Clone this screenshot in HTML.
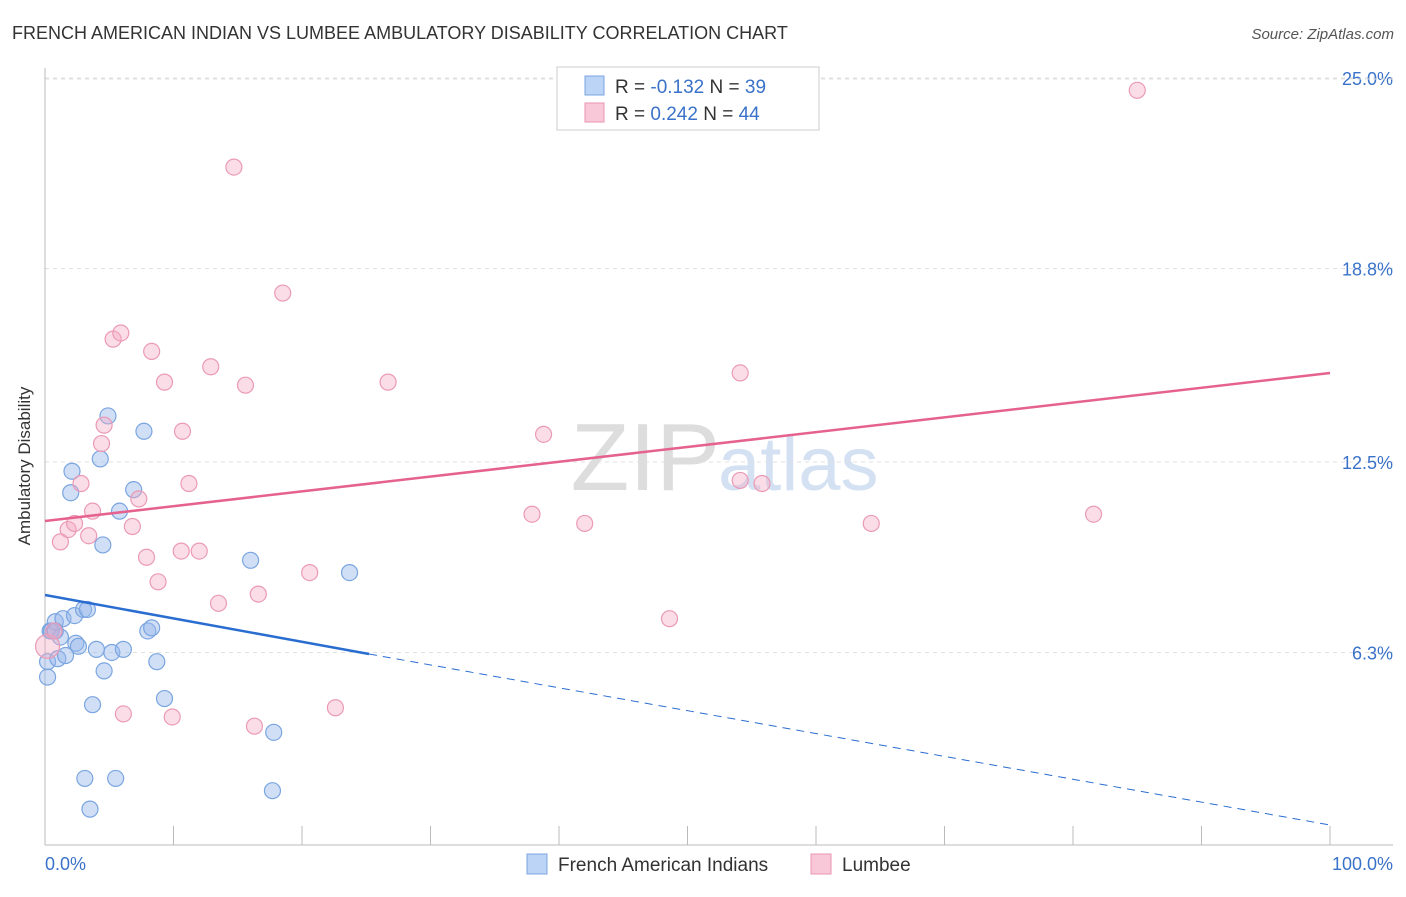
<!DOCTYPE html>
<html><head><meta charset="utf-8"><style>
body{margin:0;background:#fff;font-family:"Liberation Sans",sans-serif;}
svg text{font-family:"Liberation Sans",sans-serif;}
</style></head><body>
<svg width="1406" height="892">
<text x="12" y="39" font-size="18" fill="#333">FRENCH AMERICAN INDIAN VS LUMBEE AMBULATORY DISABILITY CORRELATION CHART</text>
<text x="1394" y="39" font-size="15" fill="#555" font-style="italic" text-anchor="end">Source: ZipAtlas.com</text>
<text x="720" y="490" font-size="96" fill="#ddd" text-anchor="end" font-family="Liberation Serif">ZIP</text>
<text x="718" y="490" font-size="76" fill="#d3e1f3">atlas</text>
<g id="grid"></g>
<line x1="45" y1="68" x2="45" y2="845" stroke="#bbb"/>
<line x1="45" y1="845" x2="1393" y2="845" stroke="#bbb"/>
<text x="20" y="456" font-size="17" fill="#333" transform="rotate(-90 30 456)" text-anchor="middle">Ambulatory Disability</text>
<text x="45" y="870" font-size="18" fill="#3a72c9">0.0%</text>
<text x="1393" y="870" font-size="18" fill="#3a72c9" text-anchor="end">100.0%</text>
<g id="marks"></g>
<g>
<rect x="557" y="67" width="262" height="63" fill="#fff" stroke="#ccc"/>
<rect x="585" y="76" width="19" height="19" fill="#bcd4f5" stroke="#7aa5e0"/>
<rect x="585" y="103" width="19" height="19" fill="#f9c8d8" stroke="#eb94b2"/>
<text x="615" y="93" font-size="19" fill="#333">R = <tspan fill="#3a72c9">-0.132</tspan>   N = <tspan fill="#3a72c9">39</tspan></text>
<text x="615" y="120" font-size="19" fill="#333">R =  <tspan fill="#3a72c9">0.242</tspan>   N = <tspan fill="#3a72c9">44</tspan></text>
</g>
<g>
<rect x="527" y="854" width="20" height="20" fill="#bcd4f5" stroke="#7aa5e0"/>
<text x="558" y="871" font-size="19" fill="#333">French American Indians</text>
<rect x="811" y="854" width="20" height="20" fill="#f9c8d8" stroke="#eb94b2"/>
<text x="842" y="871" font-size="19" fill="#333">Lumbee</text>
</g>
</svg>
<script>
const yTicks=[6.3,12.5,18.8,25.0];
const blueX=[0.2,0.4,0.5,0.8,1.0,1.2,1.4,1.6,2.0,2.1,2.3,2.4,2.6,3.0,3.3,3.7,4.0,4.3,4.5,4.6,4.9,5.2,5.8,6.1,6.9,7.7,8.0,8.3,8.7,9.3,16.0,17.8,17.7,23.7,3.1,5.5,3.5,0.2,0.8];
const blueY=[6.0,7.0,7.0,7.3,6.1,6.8,7.4,6.2,11.5,12.2,7.5,6.6,6.5,7.7,7.7,4.6,6.4,12.6,9.8,5.7,14.0,6.3,10.9,6.4,11.6,13.5,7.0,7.1,6.0,4.8,9.3,3.7,1.8,8.9,2.2,2.2,1.2,5.5,7.0];
const pinkX=[0.2,1.2,1.8,2.3,2.8,3.7,3.4,4.4,4.6,5.3,5.9,6.8,7.3,7.9,8.3,8.8,9.3,9.9,10.6,10.7,11.2,12.0,12.9,13.5,14.7,15.6,16.3,16.6,18.5,20.6,22.6,26.7,6.1,37.9,38.8,42.0,48.6,54.1,54.1,55.8,64.3,81.6,85.0,0.7];
const pinkY=[6.5,9.9,10.3,10.5,11.8,10.9,10.1,13.1,13.7,16.5,16.7,10.4,11.3,9.4,16.1,8.6,15.1,4.2,9.6,13.5,11.8,9.6,15.6,7.9,22.1,15.0,3.9,8.2,18.0,8.9,4.5,15.1,4.3,10.8,13.4,10.5,7.4,15.4,11.9,11.8,10.5,10.8,24.6,7.0];
const ns="http://www.w3.org/2000/svg";
const sx=v=>45+v*12.85, sy=v=>846-v*30.72;
const grid=document.getElementById('grid'), marks=document.getElementById('marks');
function mk(tag,a,p){const e=document.createElementNS(ns,tag);for(const k in a)e.setAttribute(k,a[k]);p.appendChild(e);return e;}
yTicks.forEach(t=>{const g=mk('line',{x1:45,x2:1393,y1:sy(t),y2:sy(t),stroke:'#e0e0e0','stroke-dasharray':'4,4'},grid);


const l=mk('text',{x:1393,y:sy(t)+7,'font-size':18,fill:'#3a72c9','text-anchor':'end'},grid);l.textContent=t.toFixed(1)+'%';

});
for(let i=0;i<=10;i++){const t=mk('line',{x1:sx(i*10),x2:sx(i*10),y1:826,y2:845,stroke:'#bbb'},grid);

}
const gr=mk('line',{x1:45,x2:1393,y1:79,y2:79,stroke:'#e0e0e0','stroke-dasharray':'4,4'},grid);


blueX.forEach((x,i)=>{const c=mk('circle',{cx:sx(x),cy:sy(blueY[i]),r:8,fill:'rgba(150,185,235,0.45)',stroke:'#7aa5e0','stroke-width':1.2},marks);

});
pinkX.forEach((x,i)=>{const c=mk('circle',{cx:sx(x),cy:sy(pinkY[i]),r:i==0?12:8,fill:'rgba(245,170,195,0.4)',stroke:'#eb9ab6','stroke-width':1.2},marks);

});
let e=mk('line',{x1:45,y1:595,x2:369,y2:654,stroke:'#2a6dd0','stroke-width':2.5},marks);


e=mk('line',{x1:369,y1:654,x2:1330,y2:825,stroke:'#2a6dd0','stroke-width':1,'stroke-dasharray':'8,6'},marks);


e=mk('line',{x1:45,y1:521,x2:1330,y2:373,stroke:'#e5628f','stroke-width':2.5},marks);


</script>
</body></html>
